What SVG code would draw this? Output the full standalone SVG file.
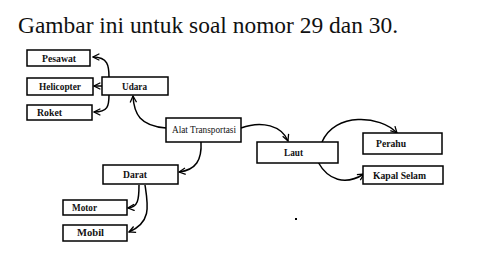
<svg xmlns="http://www.w3.org/2000/svg" width="496" height="256" viewBox="0 0 496 256">
<defs>
<marker id="arr" viewBox="0 0 10 10" refX="9" refY="5" markerWidth="8" markerHeight="8" markerUnits="userSpaceOnUse" orient="auto">
<path d="M1,1 L9,5 L1,9" fill="none" stroke="#000" stroke-width="1.6"/>
</marker>
</defs>
<style>
.box{fill:#fff;stroke:#000;stroke-width:1.5}
.lb{font-family:"Liberation Serif","Times New Roman",serif;font-size:9.5px;font-weight:bold;fill:#111}
.lr{font-family:"Liberation Serif","Times New Roman",serif;font-size:9.5px;fill:#111}
.t{font-family:"Liberation Serif","Times New Roman",serif;font-size:22.5px;fill:#111}
.c{fill:none;stroke:#000;stroke-width:1.5;marker-end:url(#arr)}
</style>
<rect width="496" height="256" fill="#fff"/>
<text class="t" x="18" y="33" textLength="380" lengthAdjust="spacingAndGlyphs">Gambar ini untuk soal nomor 29 dan 30.</text>
<g id="connectors">
<path class="c" d="M109,77 C109,66 108,57 93,57"/>
<path class="c" d="M102,86 L94,86"/>
<path class="c" d="M109,95 C109,106 108,112 94,112"/>
<path class="c" d="M166,128 C140,126 134,114 133,96"/>
<path class="c" d="M241,128 C262,120 282,126 288,141"/>
<path class="c" d="M201,142 C202,160 196,170 179,172"/>
<path class="c" d="M322,142 C335,112 380,115 397,133"/>
<path class="c" d="M318,162 C328,180 345,186 364,174"/>
<path class="c" d="M139,185 C139,200 138,207 128,208"/>
<path class="c" d="M145,185 C148,205 152,222 129,232"/>
</g>
<g id="pesawat"><rect class="box" x="27" y="50" width="63" height="16"/><text class="lb" x="42" y="61.5" textLength="34" lengthAdjust="spacingAndGlyphs">Pesawat</text></g>
<g id="helicopter"><rect class="box" x="27" y="78" width="66" height="17"/><text class="lb" x="39" y="90" textLength="42" lengthAdjust="spacingAndGlyphs">Helicopter</text></g>
<g id="roket"><rect class="box" x="27" y="105" width="65" height="15"/><text class="lb" x="37" y="115.5" textLength="25" lengthAdjust="spacingAndGlyphs">Roket</text></g>
<g id="udara"><rect class="box" x="102" y="77" width="66" height="18"/><text class="lb" x="122" y="89.5" textLength="25" lengthAdjust="spacingAndGlyphs">Udara</text></g>
<g id="alat"><rect class="box" x="166" y="118" width="75" height="24"/><text class="lr" x="172" y="133" textLength="64" lengthAdjust="spacingAndGlyphs">Alat Transportasi</text></g>
<g id="laut"><rect class="box" x="257" y="142" width="81" height="21"/><text class="lb" x="284" y="156" textLength="19" lengthAdjust="spacingAndGlyphs">Laut</text></g>
<g id="perahu"><rect class="box" x="363" y="133" width="79" height="21"/><text class="lb" x="376" y="147" textLength="30" lengthAdjust="spacingAndGlyphs">Perahu</text></g>
<g id="kapal"><rect class="box" x="363" y="166" width="80" height="18"/><text class="lb" x="373" y="178.5" textLength="53" lengthAdjust="spacingAndGlyphs">Kapal Selam</text></g>
<g id="darat"><rect class="box" x="103" y="165" width="75" height="19"/><text class="lb" x="123" y="178" textLength="24" lengthAdjust="spacingAndGlyphs">Darat</text></g>
<g id="motor"><rect class="box" x="63" y="200" width="64" height="15"/><text class="lb" x="72" y="210.5" textLength="25" lengthAdjust="spacingAndGlyphs">Motor</text></g>
<g id="mobil"><rect class="box" x="63" y="225" width="64" height="16"/><text class="lb" x="77" y="236" textLength="27" lengthAdjust="spacingAndGlyphs">Mobil</text></g>
<rect x="295" y="218" width="2" height="2" fill="#000"/>
</svg>
